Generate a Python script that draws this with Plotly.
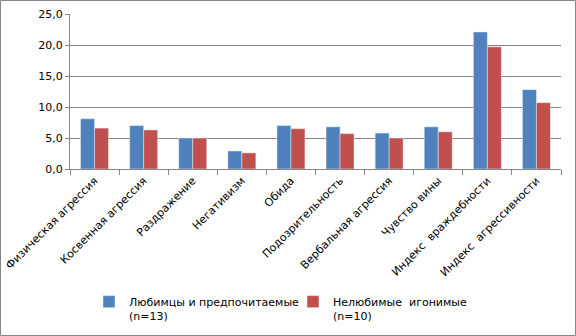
import plotly.graph_objects as go

categories = ["Физическая агрессия", "Косвенная агрессия", "Раздражение", "Негативизм",
              "Обида", "Подозрительность", "Вербальная агрессия", "Чувство вины",
              "Индекс  враждебности", "Индекс  агрессивности"]
liked = [8.1, 7.0, 5.0, 2.9, 7.0, 6.8, 5.8, 6.8, 22.1, 12.8]
disliked = [6.6, 6.3, 5.0, 2.6, 6.5, 5.7, 5.0, 6.0, 19.7, 10.7]
series_names = ["Любимцы и предпочитаемые<br>(n=13)", "Нелюбимые  игонимые<br>(n=10)"]
y_ticks = [0, 5, 10, 15, 20, 25]

W, H = 576, 336
L, R, T, B = 70, 15, 14, 167
pw, ph = W - L - R, H - T - B

fig = go.Figure()
fig.add_trace(go.Bar(x=categories, y=liked, name=series_names[0], marker_color="#4F81BD",
                     legend="legend"))
fig.add_trace(go.Bar(x=categories, y=disliked, name=series_names[1], marker_color="#C0504D",
                     legend="legend2"))

gray = "#868686"
leg_y = -(288 - (T + ph)) / ph
leg_common = dict(orientation="h", xanchor="left", yanchor="top", valign="top",
                  font=dict(size=11), itemwidth=30, bgcolor="rgba(0,0,0,0)")
fig.update_layout(
    width=W, height=H,
    margin=dict(l=L, r=R, t=T, b=B, autoexpand=False),
    paper_bgcolor="white", plot_bgcolor="white",
    font=dict(family="DejaVu Sans, sans-serif", size=11, color="#000000"),
    separators=", ",
    barmode="group", bargap=0.43, bargroupgap=0,
    showlegend=True,
    legend=dict(x=(89 - L) / pw, y=leg_y, **leg_common),
    legend2=dict(x=(293 - L) / pw, y=leg_y, **leg_common),
    xaxis=dict(tickangle=-45, showline=True, linecolor=gray, linewidth=1,
               ticks="outside", tickson="boundaries", ticklen=5, tickcolor=gray,
               showgrid=False, tickfont=dict(size=11), automargin=False),
    yaxis=dict(range=[0, 25], tickvals=y_ticks, tickformat=".1f",
               showline=True, linecolor=gray, linewidth=1,
               ticks="outside", ticklen=4, tickcolor=gray,
               showgrid=True, gridcolor=gray, gridwidth=1, zeroline=False,
               tickfont=dict(size=11), automargin=False),
    shapes=[dict(type="rect", xref="paper", yref="paper",
                 x0=-(L - 0.5) / pw, x1=(W - L - 0.5) / pw,
                 y0=-(B - 0.5) / ph, y1=(H - B - 0.5) / ph,
                 line=dict(color=gray, width=1), fillcolor="rgba(0,0,0,0)")],
)
fig.write_html("out.html")
